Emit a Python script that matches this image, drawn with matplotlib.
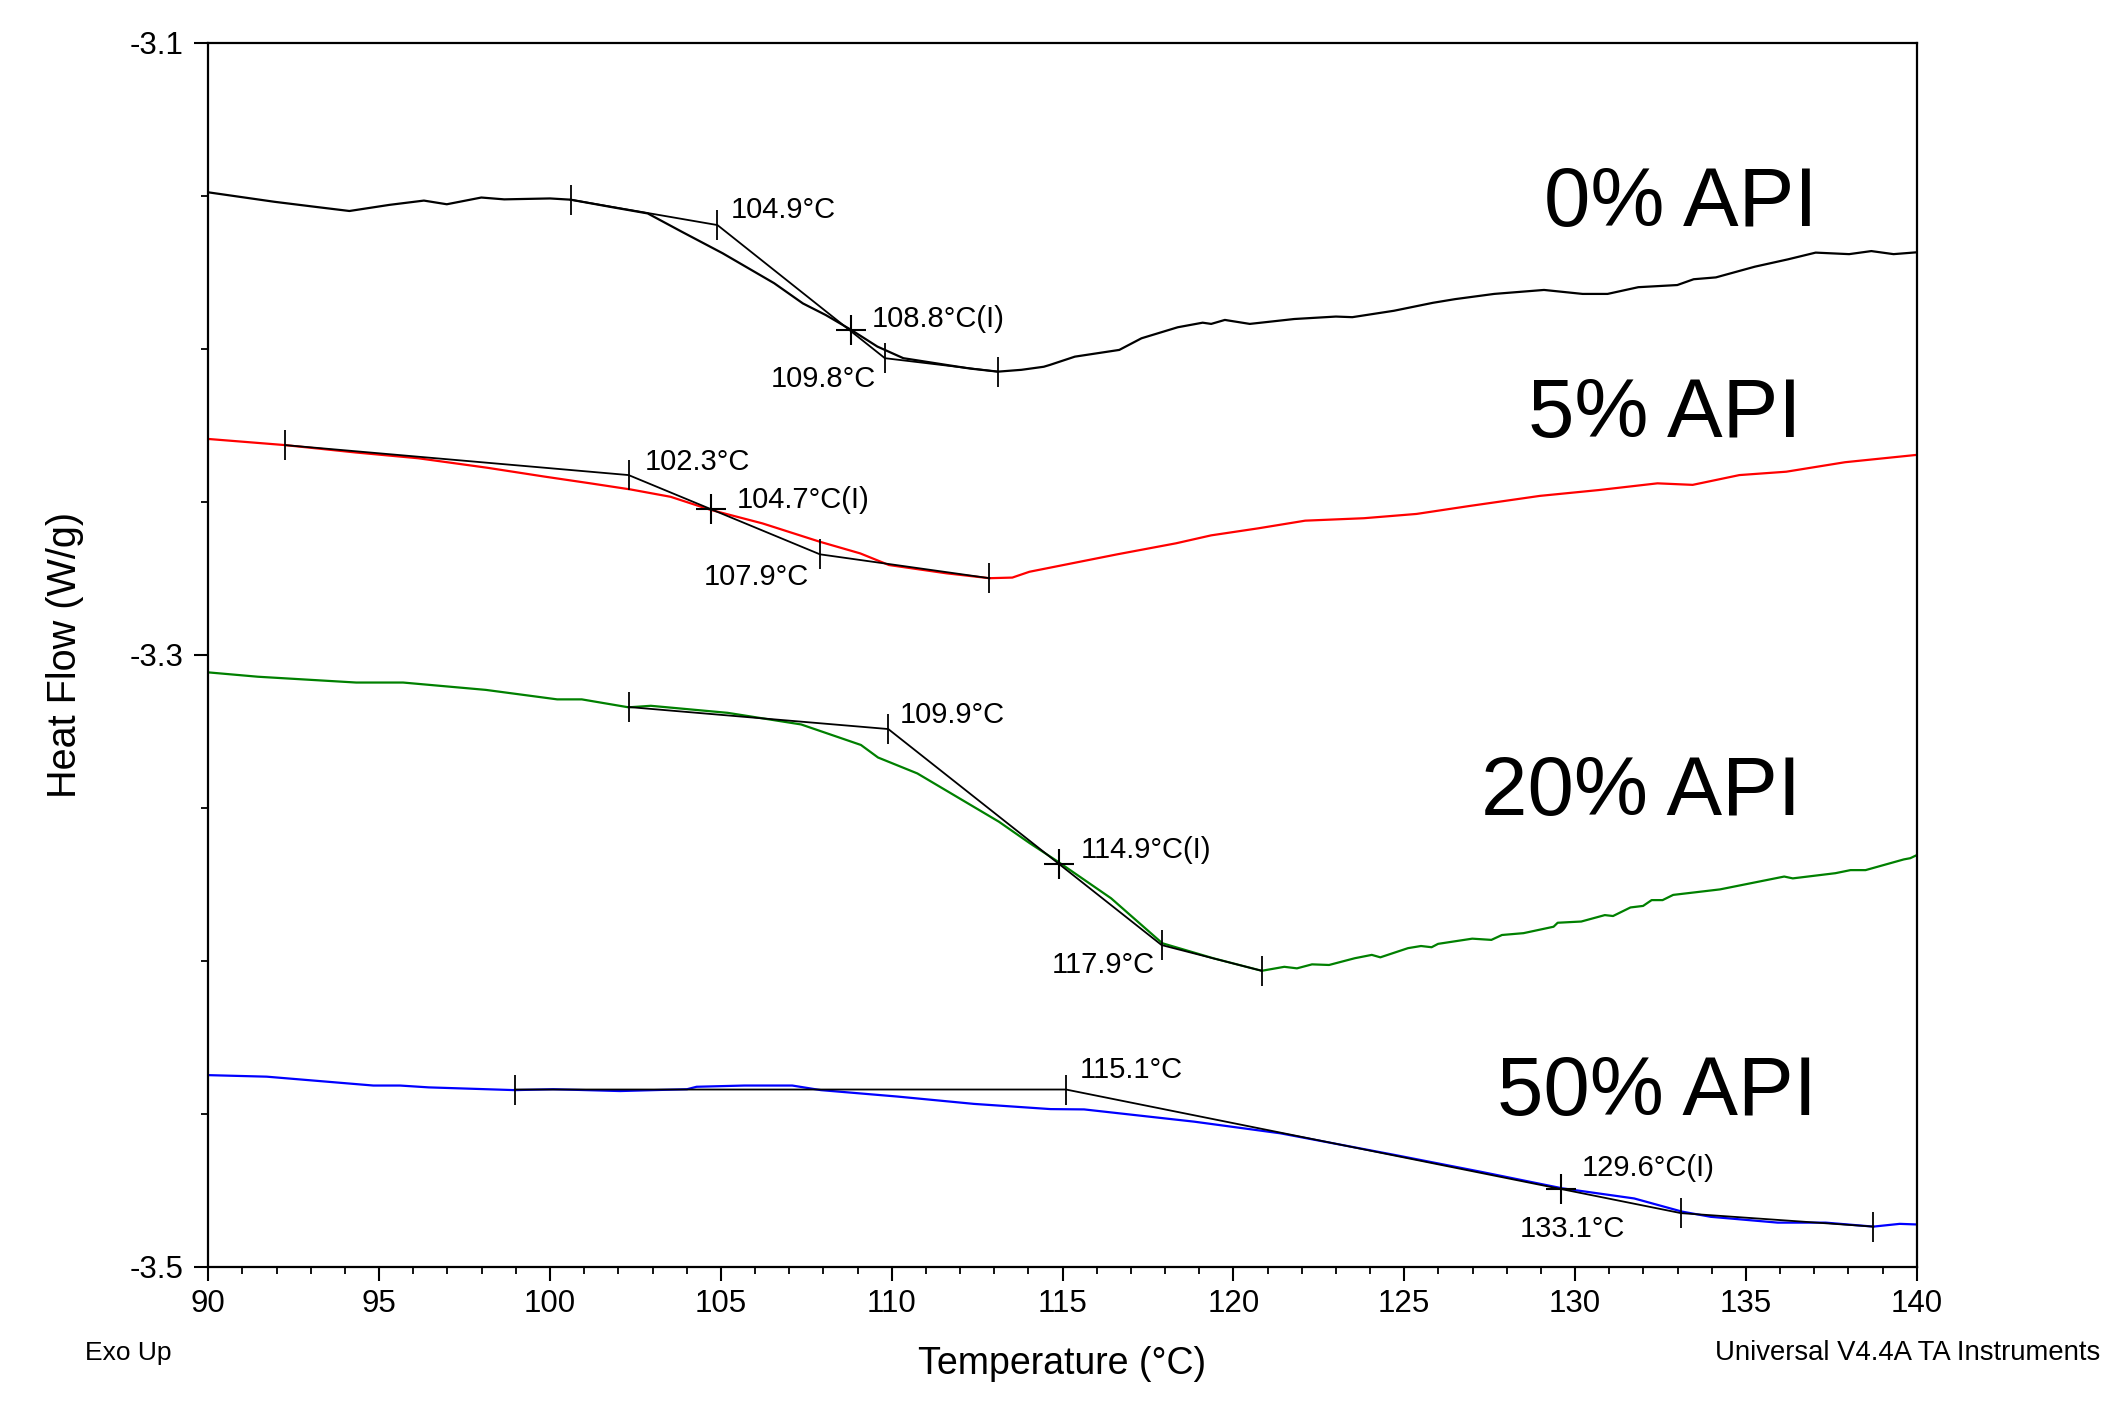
import matplotlib
matplotlib.use("Agg")
import matplotlib.pyplot as plt
from matplotlib.ticker import MultipleLocator, FixedLocator

plt.rcParams['font.family'] = ['Liberation Sans', 'DejaVu Sans']

# ---------------- data ----------------
t0 = [90.0, 91.94, 93.1, 94.13, 95.3, 96.31, 96.98, 97.99, 98.66, 100.0, 100.6, 101.84, 102.86,
      103.86, 105.05, 106.56, 107.4, 108.07, 108.82, 109.58, 110.34, 111.6, 112.3, 113.11, 113.8,
      114.45, 114.63, 115.36, 116.66, 117.31, 118.37, 119.1, 119.35, 119.75, 120.48, 121.78, 123.0,
      123.48, 124.7, 125.84, 126.49, 127.63, 129.09, 130.22, 130.95, 131.85, 132.99, 133.47, 134.12,
      135.26, 136.23, 137.04, 138.02, 138.67, 139.32, 140.0]
hf0 = [-3.1488, -3.1519, -3.1535, -3.1549, -3.1529, -3.1515, -3.1527, -3.1505, -3.1511, -3.1508,
       -3.1512, -3.1537, -3.1557, -3.1617, -3.1687, -3.1785, -3.1851, -3.1889, -3.1938, -3.1992,
       -3.2030, -3.2052, -3.2064, -3.2074, -3.2068, -3.2058, -3.2052, -3.2025, -3.2003, -3.1965,
       -3.1929, -3.1914, -3.1918, -3.1905, -3.1918, -3.1902, -3.1894, -3.1896, -3.1875, -3.1849,
       -3.1837, -3.1820, -3.1807, -3.1820, -3.1820, -3.1798, -3.1791, -3.1772, -3.1766, -3.1731,
       -3.1707, -3.1685, -3.1690, -3.1680, -3.1690, -3.1684]

t5 = [90.0, 92.24, 94.3, 96.14, 98.16, 99.84, 101.18, 102.36, 103.53, 104.71, 106.22, 107.9,
      109.08, 109.92, 111.6, 112.86, 113.53, 114.03, 116.6, 118.32, 119.35, 120.73, 122.1, 123.82,
      125.36, 126.91, 128.97, 130.69, 132.41, 133.44, 134.81, 136.18, 137.9, 140.0]
hf5 = [-3.2294, -3.2314, -3.2338, -3.2357, -3.2388, -3.2417, -3.2439, -3.2459, -3.2483, -3.2526,
       -3.2570, -3.2630, -3.2668, -3.2706, -3.2733, -3.2749, -3.2747, -3.2728, -3.2671, -3.2635,
       -3.2609, -3.2586, -3.2561, -3.2553, -3.2539, -3.2513, -3.2480, -3.2461, -3.2439, -3.2444,
       -3.2412, -3.2401, -3.2370, -3.2346]

t20 = [90.02, 91.45, 94.33, 95.7, 98.12, 100.21, 100.93, 102.3, 102.95, 105.2, 107.35, 109.1,
       109.6, 110.75, 113.14, 114.04, 114.86, 116.42, 117.92, 119.41, 120.83, 121.49, 121.86, 122.3,
       122.8, 123.55, 124.05, 124.3, 125.11, 125.49, 125.8, 125.99, 126.99, 127.55, 127.86, 128.49,
       129.37, 129.49, 130.18, 130.87, 131.11, 131.62, 131.99, 132.24, 132.56, 132.87, 134.24,
       136.12, 136.37, 137.62, 138.06, 138.5, 139.62, 139.81, 140.0]
hf20 = [-3.3057, -3.3071, -3.3090, -3.3090, -3.3114, -3.3145, -3.3145, -3.3171, -3.3166, -3.3189,
        -3.3227, -3.3294, -3.3335, -3.3387, -3.3545, -3.3615, -3.3675, -3.3795, -3.3942, -3.3991,
        -3.4032, -3.4019, -3.4024, -3.4011, -3.4013, -3.3991, -3.3980, -3.3988, -3.3958, -3.3951,
        -3.3955, -3.3944, -3.3927, -3.3931, -3.3915, -3.3909, -3.3888, -3.3875, -3.3871, -3.3850,
        -3.3853, -3.3825, -3.3820, -3.3801, -3.3801, -3.3784, -3.3766, -3.3724, -3.3730, -3.3713,
        -3.3703, -3.3703, -3.3668, -3.3664, -3.3654]

t50 = [90.0, 91.71, 94.83, 95.61, 96.45, 98.97, 100.09, 102.05, 104.01, 104.29, 105.69, 107.09,
       107.93, 110.17, 112.41, 114.65, 115.63, 118.85, 121.37, 124.73, 127.25, 129.63, 131.73,
       133.13, 133.97, 135.93, 137.33, 138.73, 139.5, 140.0]
hf50 = [-3.4373, -3.4378, -3.4407, -3.4407, -3.4413, -3.4422, -3.4419, -3.4425, -3.4419, -3.4411,
        -3.4407, -3.4407, -3.4422, -3.4443, -3.4467, -3.4484, -3.4485, -3.4525, -3.4563, -3.4634,
        -3.4689, -3.4743, -3.4776, -3.4819, -3.4836, -3.4855, -3.4855, -3.4868, -3.4859, -3.4861]

# glass-transition analysis points: start limit, onset, end, end limit
gt0_t = [100.6, 104.9, 109.8, 113.1]
gt0_hf = [-3.1512, -3.1595, -3.2030, -3.2074]
infl0 = (108.8, -3.1938)
gt5_t = [92.24, 102.3, 107.9, 112.86]
gt5_hf = [-3.2314, -3.2412, -3.2671, -3.2749]
infl5 = (104.7, -3.2523)
gt20_t = [102.3, 109.9, 117.9, 120.83]
gt20_hf = [-3.3170, -3.3242, -3.3948, -3.4032]
infl20 = (114.9, -3.3683)
gt50_t = [98.97, 115.1, 133.1, 138.73]
gt50_hf = [-3.4420, -3.4420, -3.4824, -3.4868]
infl50 = (129.6, -3.4745)

series_labels = ["0% API", "5% API", "20% API", "50% API"]
x_ticks = [90, 95, 100, 105, 110, 115, 120, 125, 130, 135, 140]
y_ticks = [-3.5, -3.3, -3.1]

# ---------------- figure ----------------
W, H = 2119, 1419
AX_L, AX_R, AX_T, AX_B = 208.3, 1916.8, 43, 1267
fig = plt.figure(figsize=(W / 100, H / 100), dpi=100)
ax = fig.add_axes([AX_L / W, 1 - AX_B / H, (AX_R - AX_L) / W, (AX_B - AX_T) / H])

curves = [(t0, hf0, 'black'), (t5, hf5, '#ff0000'), (t20, hf20, '#008000'), (t50, hf50, '#0000ff')]
for t, hf, c in curves:
    ax.plot(t, hf, color=c, lw=1.6, solid_joinstyle='round', zorder=2)

gts = [(gt0_t, gt0_hf, infl0), (gt5_t, gt5_hf, infl5), (gt20_t, gt20_hf, infl20), (gt50_t, gt50_hf, infl50)]
for gt_t, gt_hf, infl in gts:
    ax.plot(gt_t, gt_hf, color='black', lw=1.3, zorder=3)
    ax.plot(gt_t, gt_hf, ls='none', marker='|', ms=22, mew=1.3, color='black', zorder=4)
    ax.plot([infl[0]], [infl[1]], ls='none', marker='+', ms=21, mew=1.5, color='black', zorder=4)

fs_a = 21
C = "\u00b0C"
ann = [
    (105.30, -3.1573, "104.9" + C, 'left'),
    (109.41, -3.1927, "108.8" + C + "(I)", 'left'),
    (109.55, -3.2123, "109.8" + C, 'right'),
    (102.78, -3.2395, "102.3" + C, 'left'),
    (105.46, -3.2521, "104.7" + C + "(I)", 'left'),
    (107.57, -3.2771, "107.9" + C, 'right'),
    (110.23, -3.3222, "109.9" + C, 'left'),
    (115.53, -3.3665, "114.9" + C + "(I)", 'left'),
    (117.69, -3.4040, "117.9" + C, 'right'),
    (115.49, -3.4382, "115.1" + C, 'left'),
    (130.19, -3.4703, "129.6" + C + "(I)", 'left'),
    (131.45, -3.4901, "133.1" + C, 'right'),
]
for x, y, s, ha in ann:
    ax.text(x, y, s, fontsize=fs_a, ha=ha, va='baseline', zorder=5)

big_pos = [(133.1, -3.1597), (132.63, -3.2286), (131.93, -3.3523), (132.4, -3.4503)]
for (x, y), s in zip(big_pos, series_labels):
    ax.text(x, y, s, fontsize=60, ha='center', va='baseline')

ax.set_xlim(90, 140)
ax.set_ylim(-3.5, -3.1)
ax.xaxis.set_major_locator(FixedLocator(x_ticks))
ax.xaxis.set_minor_locator(MultipleLocator(1))
ax.yaxis.set_major_locator(FixedLocator(y_ticks))
ax.yaxis.set_minor_locator(MultipleLocator(0.05))
ax.set_xticklabels([str(v) for v in x_ticks])
ax.set_yticklabels([f"{v:.1f}" for v in y_ticks])
ax.tick_params(axis='both', which='major', direction='out', length=10, width=1.5, labelsize=22.5)
ax.tick_params(axis='x', which='major', pad=6)
ax.tick_params(axis='y', which='major', pad=8)
ax.tick_params(axis='both', which='minor', direction='out', length=5, width=1.3)
for sp in ax.spines.values():
    sp.set_linewidth(1.6)

ax.set_xlabel("Temperature (\u00b0C)", fontsize=27, labelpad=19)
ax.set_ylabel("Heat Flow (W/g)", fontsize=28.5)
ax.yaxis.label.set_va('center')
ax.yaxis.set_label_coords((65 - AX_L) / (AX_R - AX_L), 0.5)

fig.text(128 / W, 1 - 1353 / H, "Exo Up", fontsize=19, ha='center', va='center')
fig.text(2100 / W, 1 - 1353 / H, "Universal V4.4A TA Instruments", fontsize=19.8, ha='right', va='center')

fig.savefig("out.png", dpi=100)
